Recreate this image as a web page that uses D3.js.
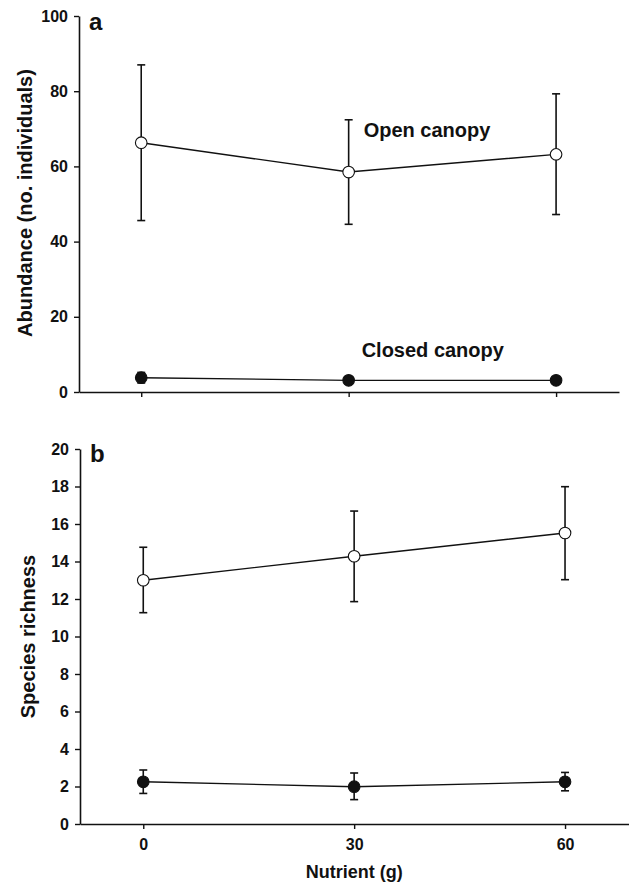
<!DOCTYPE html>
<html>
<head>
<meta charset="utf-8">
<script src="https://cdn.jsdelivr.net/npm/d3@7"></script>
<style>
  html, body { margin: 0; padding: 0; background: #fff; }
  svg { display: block; font-family: "Liberation Sans", Arial, Helvetica, sans-serif; }
</style>
</head>
<body>
<svg id="chart" width="629" height="883"></svg>
<script>
// ---- Data ----
const nutrient = [0, 30, 60];
const xTickLabels = ["0", "30", "60"];

// Panel a: abundance
const abundanceOpenMean = [66.3, 58.5, 63.2];
const abundanceOpenLow  = [45.6, 44.6, 47.2];
const abundanceOpenHigh = [87.0, 72.4, 79.3];
const abundanceClosedMean = [3.8, 3.1, 3.1];
const abundanceClosedLow  = [2.4, 2.2, 2.6];
const abundanceClosedHigh = [5.2, 4.0, 3.6];
const abundanceTicks = [0, 20, 40, 60, 80, 100];

// Panel b: species richness
const richnessOpenMean = [13.0, 14.28, 15.52];
const richnessOpenLow  = [11.27, 11.86, 13.03];
const richnessOpenHigh = [14.76, 16.69, 17.99];
const richnessClosedMean = [2.25, 1.99, 2.25];
const richnessClosedLow  = [1.63, 1.30, 1.77];
const richnessClosedHigh = [2.88, 2.72, 2.75];
const richnessTicks = [0, 2, 4, 6, 8, 10, 12, 14, 16, 18, 20];

const seriesLabels = { open: "Open canopy", closed: "Closed canopy" };

// ---- Drawing ----
const svg = d3.select("#chart");
const black = "#111";

function zip(mean, lo, hi) {
  return nutrient.map((n, i) => ({ n, m: mean[i], lo: lo[i], hi: hi[i] }));
}

function panel(cfg) {
  const g = svg.append("g");
  const x = d3.scaleLinear().domain([-9, 69.1]).range(cfg.xRange);
  const y = d3.scaleLinear().domain([0, cfg.yMax]).range(cfg.yRange);

  // y axis
  const yAxis = d3.axisLeft(y).tickValues(cfg.yTicks).tickSize(5).tickSizeOuter(0).tickPadding(6);
  const ya = g.append("g").attr("transform", `translate(${cfg.xRange[0]},0)`).call(yAxis);
  ya.select(".domain").attr("stroke", black).attr("stroke-width", 1.6);
  ya.selectAll(".tick line").attr("stroke", black).attr("stroke-width", 1.4);
  ya.selectAll(".tick text").attr("font-size", 16).attr("font-weight", "bold").attr("fill", black);

  // x axis
  const xAxis = d3.axisBottom(x).tickValues(nutrient).tickSize(5).tickSizeOuter(0).tickPadding(10)
    .tickFormat((d, i) => cfg.showXLabels ? xTickLabels[i] : "");
  const xa = g.append("g").attr("transform", `translate(0,${cfg.yRange[0]})`).call(xAxis);
  xa.select(".domain").attr("stroke", black).attr("stroke-width", 1.6);
  xa.selectAll(".tick line").attr("stroke", black).attr("stroke-width", 1.4);
  xa.selectAll(".tick text").attr("font-size", 16).attr("font-weight", "bold").attr("fill", black);

  // y title
  g.append("text")
    .attr("transform", `translate(${cfg.yTitleX},${(cfg.yRange[0] + cfg.yRange[1]) / 2 + cfg.yTitleShift}) rotate(-90)`)
    .attr("text-anchor", "middle")
    .attr("font-size", 20).attr("font-weight", "bold").attr("fill", black)
    .text(cfg.yTitle);

  // panel letter
  g.append("text")
    .attr("x", cfg.xRange[0] + 10).attr("y", cfg.yRange[1] + cfg.letterDy)
    .attr("font-size", 24).attr("font-weight", "bold").attr("fill", black)
    .text(cfg.letter);

  const line = d3.line().x(d => x(d.n)).y(d => y(d.m));

  cfg.series.forEach(s => {
    const data = zip(s.mean, s.lo, s.hi);
    // error bars
    const eb = g.append("g");
    data.forEach(d => {
      eb.append("line").attr("x1", x(d.n)).attr("x2", x(d.n)).attr("y1", y(d.lo)).attr("y2", y(d.hi))
        .attr("stroke", black).attr("stroke-width", 1.6);
      [d.lo, d.hi].forEach(v => {
        eb.append("line").attr("x1", x(d.n) - 4).attr("x2", x(d.n) + 4).attr("y1", y(v)).attr("y2", y(v))
          .attr("stroke", black).attr("stroke-width", 1.6);
      });
    });
    g.append("path").datum(data).attr("d", line).attr("fill", "none").attr("stroke", black).attr("stroke-width", 1.4);
    g.selectAll(null).data(data).enter().append("circle")
      .attr("cx", d => x(d.n)).attr("cy", d => y(d.m)).attr("r", 5.8)
      .attr("fill", s.filled ? black : "#fff").attr("stroke", black).attr("stroke-width", 1.1);
  });

  return { g, x, y };
}

const pa = panel({
  xRange: [79, 619], yRange: [392, 16], yMax: 100, yTicks: abundanceTicks,
  showXLabels: false, yTitle: "Abundance (no. individuals)", yTitleX: 32, yTitleShift: -1,
  letter: "a", letterDy: 14,
  series: [
    { mean: abundanceOpenMean, lo: abundanceOpenLow, hi: abundanceOpenHigh, filled: false },
    { mean: abundanceClosedMean, lo: abundanceClosedLow, hi: abundanceClosedHigh, filled: true }
  ]
});
pa.g.append("text").attr("x", pa.x(30) + 15).attr("y", pa.y(67.8))
  .attr("font-size", 20).attr("font-weight", "bold").attr("fill", black).text(seriesLabels.open);
pa.g.append("text").attr("x", pa.x(30) + 13).attr("y", pa.y(9.3))
  .attr("font-size", 20).attr("font-weight", "bold").attr("fill", black).text(seriesLabels.closed);

const pb = panel({
  xRange: [80, 629], yRange: [824, 449], yMax: 20, yTicks: richnessTicks,
  showXLabels: true, yTitle: "Species richness", yTitleX: 35, yTitleShift: 0,
  letter: "b", letterDy: 13,
  series: [
    { mean: richnessOpenMean, lo: richnessOpenLow, hi: richnessOpenHigh, filled: false },
    { mean: richnessClosedMean, lo: richnessClosedLow, hi: richnessClosedHigh, filled: true }
  ]
});
pb.g.append("text").attr("x", pb.x(30)).attr("y", 878)
  .attr("text-anchor", "middle")
  .attr("font-size", 18).attr("font-weight", "bold").attr("fill", black).text("Nutrient (g)");
</script>
</body>
</html>
